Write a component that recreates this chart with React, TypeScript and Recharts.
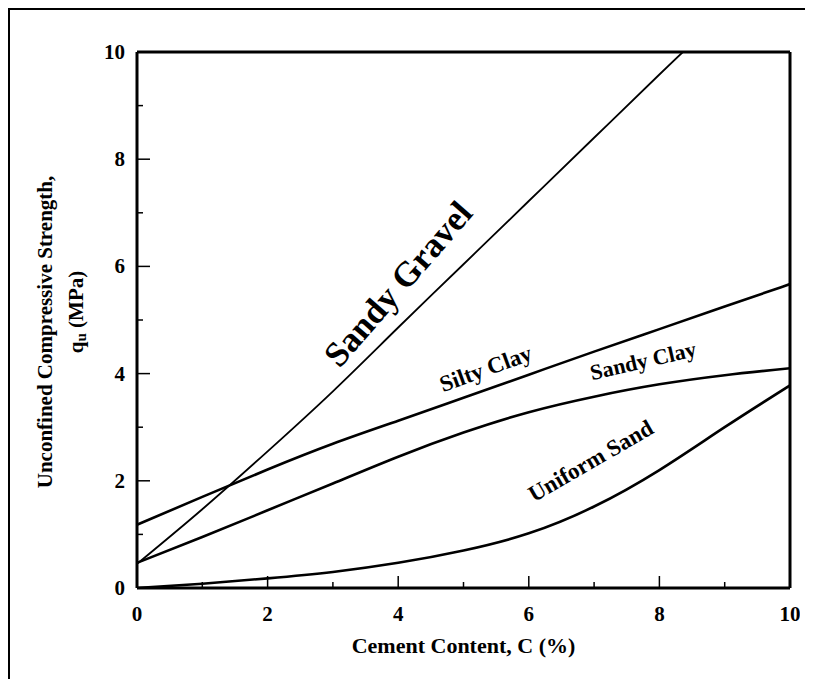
import React from "react";
import {
  LineChart,
  Line,
  XAxis,
  YAxis,
  ReferenceLine,
  ReferenceDot,
} from "recharts";

// cement content (%) and strength qu (MPa)
const sandyGravelC = [0, 1, 2, 3, 4, 5, 6, 7, 8, 8.36];
const sandyGravelQ = [0.45, 1.47, 2.55, 3.67, 4.86, 6.04, 7.22, 8.4, 9.58, 10];

const siltyClayC = [0, 1, 2, 3, 4, 5, 6, 7, 8, 9, 10];
const siltyClayQ = [1.18, 1.7, 2.21, 2.69, 3.12, 3.55, 3.98, 4.41, 4.83, 5.25, 5.67];

const sandyClayC = [0, 1, 2, 3, 4, 5, 6, 7, 8, 9, 10];
const sandyClayQ = [0.47, 0.95, 1.45, 1.95, 2.45, 2.9, 3.28, 3.57, 3.8, 3.97, 4.1];

const uniformSandC = [0, 1, 2, 3, 4, 5, 6, 7, 8, 9, 10];
const uniformSandQ = [0, 0.08, 0.18, 0.3, 0.47, 0.7, 1.02, 1.52, 2.2, 3.0, 3.78];

const xTicks = [0, 1, 2, 3, 4, 5, 6, 7, 8, 9, 10];
const yTicks = [0, 1, 2, 3, 4, 5, 6, 7, 8, 9, 10];

// curve names and where they sit (in data units)
const labelNames = ["Sandy Gravel", "Silty Clay", "Sandy Clay", "Uniform Sand"];
const labelC = [4.0, 5.34, 7.75, 6.95];
const labelQ = [5.67, 4.09, 4.24, 2.37];
const labelAngle = [-49, -20, -13, -30];
const labelSize = [35, 23, 22, 23];

const toRows = (c: number[], q: number[]) => c.map((v, i) => ({ c: v, q: q[i] }));

const FONT = '"Liberation Serif", "Times New Roman", serif';

const XTick = (props: any) => {
  const { x, y, payload } = props;
  const v = payload.value;
  const major = v % 2 === 0;
  return (
    <g>
      <line x1={x} y1={y} x2={x} y2={y - (major ? 12 : 6)} stroke="#000" strokeWidth={1.5} />
      {major && (
        <text x={x} y={y + 33} textAnchor="middle" fontFamily={FONT} fontWeight="bold" fontSize={21} fill="#000">
          {v}
        </text>
      )}
    </g>
  );
};

const YTick = (props: any) => {
  const { x, y, payload } = props;
  const v = payload.value;
  const major = v % 2 === 0;
  return (
    <g>
      <line x1={x} y1={y} x2={x + (major ? 13 : 6)} y2={y} stroke="#000" strokeWidth={1.5} />
      {major && (
        <text x={x - 12} y={y + 7} textAnchor="end" fontFamily={FONT} fontWeight="bold" fontSize={21} fill="#000">
          {v}
        </text>
      )}
    </g>
  );
};

const YTitle = (props: any) => {
  const { viewBox } = props;
  const cy = viewBox.y + viewBox.height / 2;
  return (
    <g fontFamily={FONT} fontWeight="bold" fontSize={21} fill="#000">
      <text x={35} y={cy + 12} transform={`rotate(-90 35 ${cy + 12})`} textAnchor="middle" dominantBaseline="central">
        Unconfined Compressive Strength,
      </text>
      <text x={66} y={cy - 8} transform={`rotate(-90 66 ${cy - 8})`} textAnchor="middle" dominantBaseline="central">
        q<tspan fontSize={15} dy={5}>u</tspan>
        <tspan dy={-5}> (MPa)</tspan>
      </text>
    </g>
  );
};

export default function App() {
  const series = [
    { name: "Sandy Gravel", rows: toRows(sandyGravelC, sandyGravelQ), width: 1.8 },
    { name: "Silty Clay", rows: toRows(siltyClayC, siltyClayQ), width: 2.6 },
    { name: "Sandy Clay", rows: toRows(sandyClayC, sandyClayQ), width: 2.6 },
    { name: "Uniform Sand", rows: toRows(uniformSandC, uniformSandQ), width: 2.6 },
  ];

  return (
    <div style={{ borderLeft: "2px solid #000", borderTop: "2px solid #000", height: 669, overflow: "hidden" }}>
      <LineChart width={790} height={669} margin={{ top: 42, right: 10, left: 0, bottom: 0 }}>
        <XAxis
          dataKey="c"
          type="number"
          domain={[0, 10]}
          ticks={xTicks}
          interval={0}
          allowDataOverflow
          tickSize={0}
          tickMargin={0}
          tickLine={false}
          height={91}
          axisLine={{ stroke: "#000", strokeWidth: 3 }}
          tick={<XTick />}
          label={{
            value: "Cement Content, C (%)",
            position: "insideBottom",
            offset: 26,
            style: { fontFamily: FONT, fontWeight: "bold", fontSize: 22, fill: "#000" },
          }}
        />
        <YAxis
          type="number"
          domain={[0, 10]}
          ticks={yTicks}
          interval={0}
          allowDataOverflow
          tickSize={0}
          tickMargin={0}
          tickLine={false}
          width={127}
          axisLine={{ stroke: "#000", strokeWidth: 3 }}
          tick={<YTick />}
          label={{ content: <YTitle /> }}
        />
        <ReferenceLine y={10} stroke="#000" strokeWidth={3} />
        <ReferenceLine x={10} stroke="#000" strokeWidth={3} />
        {series.map((s) => (
          <Line
            key={s.name}
            name={s.name}
            data={s.rows}
            dataKey="q"
            type="natural"
            stroke="#000"
            strokeWidth={s.width}
            dot={false}
            isAnimationActive={false}
          />
        ))}
        {labelNames.map((name, i) => (
          <ReferenceDot
            key={name}
            x={labelC[i]}
            y={labelQ[i]}
            r={0}
            shape={(p: any) => (
              <text
                x={p.cx}
                y={p.cy}
                transform={`rotate(${labelAngle[i]} ${p.cx} ${p.cy})`}
                textAnchor="middle"
                dominantBaseline="central"
                fontFamily={FONT}
                fontWeight="bold"
                fontSize={labelSize[i]}
                fill="#000"
              >
                {name}
              </text>
            )}
          />
        ))}
      </LineChart>
    </div>
  );
}
